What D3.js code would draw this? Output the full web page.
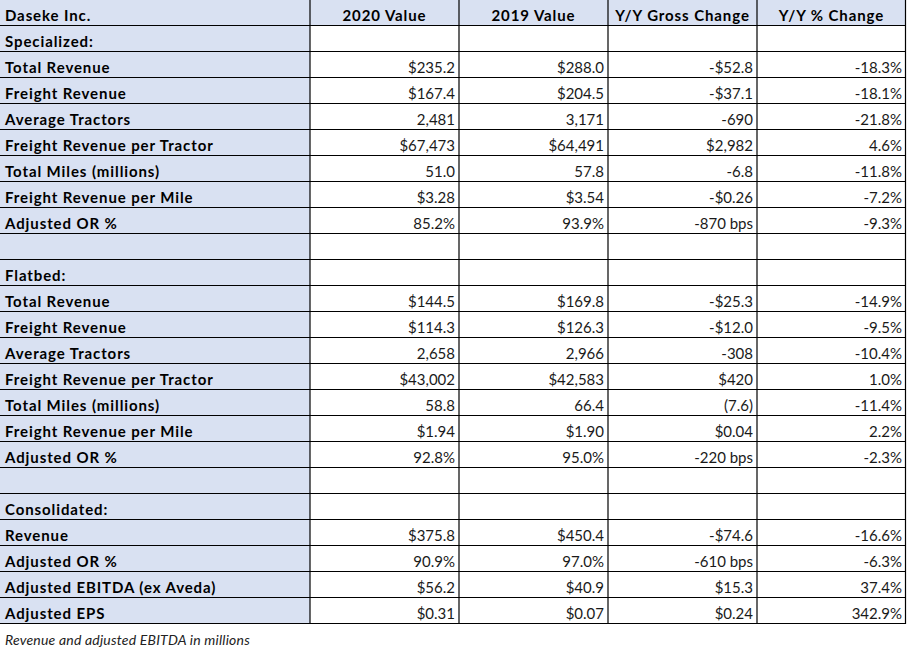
<!DOCTYPE html>
<html>
<head>
<meta charset="utf-8">
<script src="https://cdn.jsdelivr.net/npm/d3@7"></script>
<style>
  body { margin: 0; background: #fff; }
  svg { display: block; }
</style>
</head>
<body>
<div id="chart"></div>
<script>
const headers = ['Daseke Inc.', '2020 Value', '2019 Value', 'Y/Y Gross Change', 'Y/Y % Change']

const labels = [
  'Specialized:', 'Total Revenue', 'Freight Revenue', 'Average Tractors', 'Freight Revenue per Tractor',
  'Total Miles (millions)', 'Freight Revenue per Mile', 'Adjusted OR %', '',
  'Flatbed:', 'Total Revenue', 'Freight Revenue', 'Average Tractors', 'Freight Revenue per Tractor',
  'Total Miles (millions)', 'Freight Revenue per Mile', 'Adjusted OR %', '',
  'Consolidated:', 'Revenue', 'Adjusted OR %', 'Adjusted EBITDA (ex Aveda)', 'Adjusted EPS'
]

const value2020 = [
  '', '$235.2', '$167.4', '2,481', '$67,473', '51.0', '$3.28', '85.2%', '',
  '', '$144.5', '$114.3', '2,658', '$43,002', '58.8', '$1.94', '92.8%', '',
  '', '$375.8', '90.9%', '$56.2', '$0.31'
]

const value2019 = [
  '', '$288.0', '$204.5', '3,171', '$64,491', '57.8', '$3.54', '93.9%', '',
  '', '$169.8', '$126.3', '2,966', '$42,583', '66.4', '$1.90', '95.0%', '',
  '', '$450.4', '97.0%', '$40.9', '$0.07'
]

const grossChange = [
  '', '-$52.8', '-$37.1', '-690', '$2,982', '-6.8', '-$0.26', '-870 bps', '',
  '', '-$25.3', '-$12.0', '-308', '$420', '(7.6)', '$0.04', '-220 bps', '',
  '', '-$74.6', '-610 bps', '$15.3', '$0.24'
]

const pctChange = [
  '', '-18.3%', '-18.1%', '-21.8%', '4.6%', '-11.8%', '-7.2%', '-9.3%', '',
  '', '-14.9%', '-9.5%', '-10.4%', '1.0%', '-11.4%', '2.2%', '-2.3%', '',
  '', '-16.6%', '-6.3%', '37.4%', '342.9%'
]

const note = 'Revenue and adjusted EBITDA in millions'

const width = 907, height = 651
const labelW = 310, tableR = 906, rowH = 26, base = 21

const svg = d3.select('#chart').append('svg')
  .attr('width', width)
  .attr('height', height)

const nRows = labels.length + 1
const y = d3.scaleBand()
  .domain(d3.range(nRows))
  .range([0, nRows * rowH])

const x = d3.scaleBand()
  .domain(d3.range(4))
  .range([labelW, tableR])

const cols = [value2020, value2019, grossChange, pctChange]

// backgrounds
svg.append('rect')
  .attr('x', 0).attr('y', 0)
  .attr('width', labelW).attr('height', y.range()[1])
  .attr('fill', '#d9e1f2')
svg.append('rect')
  .attr('x', labelW).attr('y', 0)
  .attr('width', tableR - labelW).attr('height', y.bandwidth())
  .attr('fill', '#d9e1f2')

// grid
const grid = svg.append('g').attr('stroke', '#000').attr('stroke-width', 1.2)
grid.selectAll('.h')
  .data(d3.range(1, nRows + 1))
  .enter().append('line')
  .attr('x1', 0).attr('x2', tableR)
  .attr('y1', d => y(d - 1) + y.bandwidth() - 0.5)
  .attr('y2', d => y(d - 1) + y.bandwidth() - 0.5)
grid.selectAll('.v')
  .data(d3.range(5))
  .enter().append('line')
  .attr('x1', d => d < 4 ? x(d) : tableR - 0.5)
  .attr('x2', d => d < 4 ? x(d) : tableR - 0.5)
  .attr('y1', 0).attr('y2', y.range()[1])

const font = 'Lato, "Noto Sans", sans-serif'

// header
svg.append('text')
  .attr('x', 5).attr('y', y(0) + base)
  .attr('font-family', font).attr('font-weight', 'bold')
  .attr('font-size', 15).attr('letter-spacing', 0.9).attr('fill', '#000')
  .text(headers[0])
svg.selectAll('.hdr')
  .data(headers.slice(1))
  .enter().append('text')
  .attr('x', (d, i) => x(i) + x.bandwidth() / 2)
  .attr('y', y(0) + base)
  .attr('text-anchor', 'middle')
  .attr('font-family', font).attr('font-weight', 'bold')
  .attr('font-size', 15).attr('letter-spacing', 0.9).attr('fill', '#000')
  .text(d => d)

// row labels
svg.selectAll('.lbl')
  .data(labels)
  .enter().append('text')
  .attr('x', 5)
  .attr('y', (d, i) => y(i + 1) + base)
  .attr('font-family', font).attr('font-weight', 'bold')
  .attr('font-size', 15).attr('letter-spacing', 0.9).attr('fill', '#000')
  .text(d => d)

// values
cols.forEach((col, c) => {
  svg.append('g').selectAll('text')
    .data(col)
    .enter().append('text')
    .attr('x', x(c) + x.bandwidth() - 4)
    .attr('y', (d, i) => y(i + 1) + base)
    .attr('text-anchor', 'end')
    .attr('font-family', font)
    .attr('font-size', 15).attr('fill', '#1a1a1a')
    .text(d => d)
})

svg.append('text')
  .attr('x', 5).attr('y', 645)
  .attr('font-family', font).attr('font-style', 'italic')
  .attr('font-size', 14).attr('letter-spacing', 0.2).attr('fill', '#222')
  .text(note)
</script>
</body>
</html>
